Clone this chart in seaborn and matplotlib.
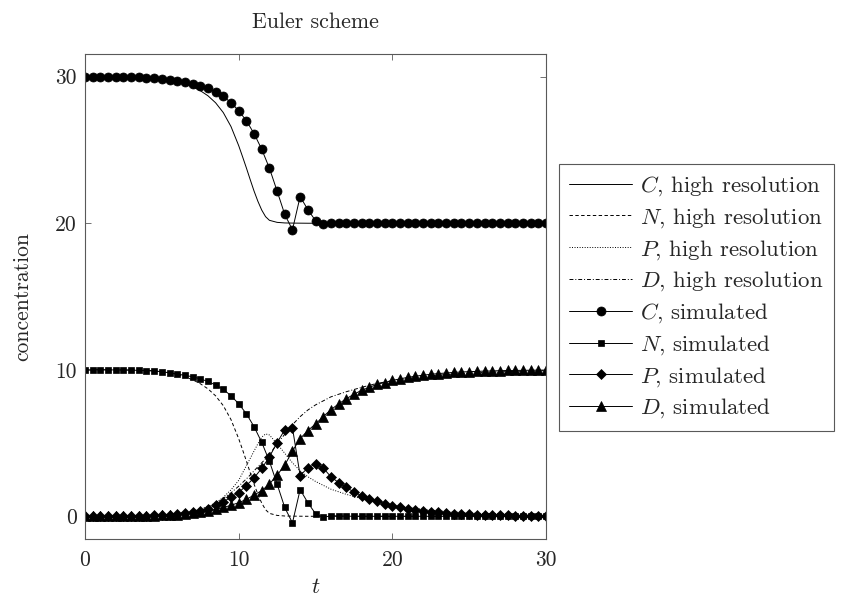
import numpy as np
import pandas as pd
import matplotlib
matplotlib.use("Agg")
import matplotlib.pyplot as plt
import seaborn as sns

# ---------------- data ----------------
t_sim = np.arange(0, 30.5, 0.5)

C_sim = [30.0, 30.0, 30.0, 29.99, 29.99, 29.98, 29.97, 29.96, 29.94, 29.92,
         29.86, 29.79, 29.71, 29.62, 29.52, 29.38, 29.2, 28.96, 28.66, 28.23,
         27.68, 27.0, 26.12, 25.05, 23.76, 22.2, 20.6, 19.55, 21.82, 20.93,
         20.18, 19.92, 20.04, 20.02, 20.01] + [20.0] * 26

N_sim = [10.0, 10.0, 10.0, 9.99, 9.99, 9.98, 9.97, 9.96, 9.94, 9.92,
         9.86, 9.79, 9.71, 9.62, 9.52, 9.38, 9.2, 8.96, 8.66, 8.23,
         7.68, 7.0, 6.12, 5.05, 3.76, 2.2, 0.6, -0.45, 1.82, 0.93,
         0.18, -0.08, 0.04, 0.02, 0.01] + [0.0] * 26

P_sim = [0.0, 0.003, 0.006, 0.01, 0.014, 0.02, 0.027, 0.037, 0.05, 0.066,
         0.09, 0.12, 0.16, 0.21, 0.28, 0.38, 0.53, 0.74, 0.99, 1.3,
         1.62, 2.1, 2.62, 3.27, 4.05, 5.03, 5.9, 6.04, 2.78, 3.31,
         3.56, 3.3, 2.7, 2.3, 1.97, 1.66, 1.4, 1.2, 1.02, 0.87,
         0.73, 0.62, 0.52, 0.44, 0.37, 0.31, 0.26, 0.22, 0.18, 0.15,
         0.13, 0.11, 0.09, 0.08, 0.065, 0.055, 0.045, 0.04, 0.03, 0.025,
         0.02]

D_sim = [0.0, 0.001, 0.003, 0.005, 0.008, 0.012, 0.017, 0.024, 0.033, 0.045,
         0.06, 0.08, 0.11, 0.15, 0.2, 0.27, 0.36, 0.47, 0.6, 0.75,
         0.93, 1.15, 1.45, 1.75, 2.2, 2.8, 3.5, 4.45, 5.3, 5.85,
         6.3, 6.8, 7.27, 7.67, 8.02, 8.33, 8.6, 8.8, 9.0, 9.13,
         9.27, 9.38, 9.48, 9.56, 9.63, 9.69, 9.74, 9.78, 9.82, 9.85,
         9.87, 9.89, 9.91, 9.92, 9.94, 9.95, 9.955, 9.96, 9.97, 9.975,
         9.98]

t_hi = [0, 1, 2, 3, 4, 5,
        5.5, 6, 6.5, 7, 7.5, 8, 8.5, 9, 9.5, 10,
        10.25, 10.5, 10.75, 11, 11.25, 11.5, 11.75, 12,
        12.5, 13, 13.5, 14, 14.5, 15,
        16, 17, 18, 19, 20, 21, 22, 23, 24, 25, 26, 27, 28, 29, 30]

C_hi = [30.0, 30.0, 29.995, 29.985, 29.96, 29.88,
        29.8, 29.68, 29.52, 29.32, 29.05, 28.7, 28.22, 27.55, 26.6, 25.3,
        24.55, 23.78, 22.98, 22.2, 21.5, 20.9, 20.45, 20.2,
        20.06, 20.02, 20.01, 20.005, 20.0, 20.0] + [20.0] * 15

N_hi = [10.0, 10.0, 9.995, 9.985, 9.96, 9.88,
        9.8, 9.68, 9.52, 9.32, 9.05, 8.7, 8.22, 7.55, 6.6, 5.3,
        4.55, 3.78, 2.98, 2.2, 1.5, 0.9, 0.45, 0.2,
        0.06, 0.02, 0.01, 0.005, 0.0, 0.0] + [0.0] * 15

P_hi = [0.0, 0.005, 0.01, 0.02, 0.05, 0.09,
        0.12, 0.17, 0.23, 0.3, 0.4, 0.6, 0.9, 1.3, 1.8, 2.45,
        2.95, 3.45, 3.95, 4.45, 4.95, 5.4, 5.62, 5.55,
        4.95, 4.3, 3.65, 3.1, 2.7, 2.38,
        1.85, 1.5, 1.2, 0.93, 0.75, 0.6, 0.47, 0.37, 0.29, 0.23,
        0.18, 0.14, 0.11, 0.09, 0.07]

D_hi = [0.0, 0.005, 0.01, 0.02, 0.04, 0.09,
        0.13, 0.18, 0.26, 0.36, 0.5, 0.68, 0.92, 1.22, 1.6, 2.05,
        2.3, 2.55, 2.82, 3.1, 3.38, 3.65, 3.92, 4.2,
        4.95, 5.6, 6.25, 6.8, 7.25, 7.6,
        8.15, 8.5, 8.8, 9.07, 9.25, 9.4, 9.53, 9.63, 9.71, 9.77,
        9.82, 9.86, 9.89, 9.91, 9.93]

x_ticks = [0, 10, 20, 30]
y_ticks = [0, 10, 20, 30]

# ---------------- style ----------------
sns.set_style("ticks")
plt.rcParams["font.family"] = ["cmr10", "DejaVu Serif"]
plt.rcParams["mathtext.fontset"] = "cm"
plt.rcParams["axes.formatter.use_mathtext"] = True
plt.rcParams["axes.unicode_minus"] = False
FS_TICK = 15.5
FS_LEG = 16.5
FS_TITLE = 15.8
FS_LAB = 15.5

W, H = 842, 602
fig = plt.figure(figsize=(W / 100, H / 100), dpi=100)
ax = fig.add_axes([85 / W, 1 - 539 / H, (546 - 85) / W, (539 - 54) / H])

lw = 0.7
hi = pd.DataFrame({"t": t_hi, "C": C_hi, "N": N_hi, "P": P_hi, "D": D_hi})
sim = pd.DataFrame({"t": t_sim, "C": C_sim, "N": N_sim, "P": P_sim, "D": D_sim})

sns.lineplot(data=hi, x="t", y="C", ax=ax, color="k", linewidth=lw,
             linestyle="-", label="$C$, high resolution")
sns.lineplot(data=hi, x="t", y="N", ax=ax, color="k", linewidth=lw,
             linestyle=(0, (3.5, 2.5)), label="$N$, high resolution")
sns.lineplot(data=hi, x="t", y="P", ax=ax, color="k", linewidth=lw,
             linestyle=(0, (1, 1.6)), label="$P$, high resolution")
sns.lineplot(data=hi, x="t", y="D", ax=ax, color="k", linewidth=lw,
             linestyle=(0, (4, 2, 1, 2)), label="$D$, high resolution")

mk = dict(color="k", linewidth=lw, markeredgecolor="k", markerfacecolor="k",
          markeredgewidth=0.5)
sns.lineplot(data=sim, x="t", y="C", ax=ax, marker="o", markersize=6.5,
             label="$C$, simulated", **mk)
sns.lineplot(data=sim, x="t", y="N", ax=ax, marker="s", markersize=4.9,
             label="$N$, simulated", **mk)
sns.lineplot(data=sim, x="t", y="P", ax=ax, marker="D", markersize=5.0,
             label="$P$, simulated", **mk)
sns.lineplot(data=sim, x="t", y="D", ax=ax, marker="^", markersize=6.6,
             label="$D$, simulated", **mk)

ax.set_xlim(0, 30)
ax.set_ylim(-1.55, 31.55)
ax.set_xticks(x_ticks)
ax.set_yticks(y_ticks)
ax.set_xticklabels([str(v) for v in x_ticks], fontsize=FS_TICK)
ax.set_yticklabels([str(v) for v in y_ticks], fontsize=FS_TICK)
ax.tick_params(direction="in", top=True, right=True, length=4, width=0.6,
               color="0.35")
ax.tick_params(axis="y", pad=6)
ax.tick_params(axis="x", pad=8)
for s in ax.spines.values():
    s.set_visible(True)
    s.set_linewidth(0.8)
    s.set_color("0.35")

ax.set_title("Euler scheme", fontsize=FS_TITLE, pad=19)
ax.set_xlabel("$t$", fontsize=FS_LAB + 1, labelpad=6)
ax.set_ylabel("concentration", fontsize=FS_LAB, labelpad=16)

leg = ax.legend(loc="upper left", bbox_to_anchor=(559 / W, 1 - 164 / H),
                bbox_transform=fig.transFigure, borderaxespad=0,
                frameon=True, fancybox=False, edgecolor="0.35",
                framealpha=1, fontsize=FS_LEG, handlelength=2.75,
                handletextpad=0.35, labelspacing=0.35, borderpad=0.45)
leg.get_frame().set_linewidth(0.8)

fig.savefig("out.png", dpi=100)
